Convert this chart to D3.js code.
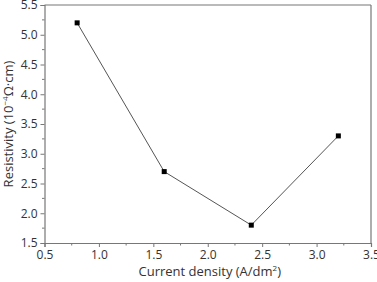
<!DOCTYPE html>
<html>
<head>
<meta charset="utf-8">
<script src="https://cdn.jsdelivr.net/npm/d3@7"></script>
<style>
  body { margin: 0; background: #fff; }
  text { font-family: "Open Sans", sans-serif; fill: #333; }
</style>
</head>
<body>
<div id="chart"></div>
<script>
const density = [0.8, 1.6, 2.4, 3.2];
const resistivity = [5.2, 2.7, 1.8, 3.3];
const xTicks = [0.5, 1.0, 1.5, 2.0, 2.5, 3.0, 3.5];
const yTicks = [1.5, 2.0, 2.5, 3.0, 3.5, 4.0, 4.5, 5.0, 5.5];

const W = 377, H = 282;
const margin = { top: 5, right: 6, bottom: 39, left: 44.5 },
  width = W - margin.left - margin.right,
  height = H - margin.top - margin.bottom;

const svg = d3.select("#chart").append("svg")
  .attr("width", W).attr("height", H)
  .append("g")
  .attr("transform", `translate(${margin.left}, ${margin.top})`);

const xScale = d3.scaleLinear().domain([0.5, 3.5]).range([0, width]);
const yScale = d3.scaleLinear().domain([1.5, 5.5]).range([height, 0]);

const frame = "#777";

// minor ticks
const xMinor = d3.range(0.75, 3.5, 0.5);
const yMinor = d3.range(1.75, 5.5, 0.5);

const xAxis = svg.append("g")
  .attr("transform", `translate(0, ${height})`)
  .call(d3.axisBottom(xScale).tickValues(xTicks).tickFormat(d3.format(".1f")).tickSize(4).tickPadding(3));
xAxis.selectAll("g.minor").data(xMinor).enter().append("line")
  .attr("x1", d => xScale(d)).attr("x2", d => xScale(d))
  .attr("y1", 0).attr("y2", 2.5).attr("stroke", frame);

const yAxis = svg.append("g")
  .call(d3.axisLeft(yScale).tickValues(yTicks).tickFormat(d3.format(".1f")).tickSize(4).tickPadding(3));
yAxis.selectAll("g.minor").data(yMinor).enter().append("line")
  .attr("y1", d => yScale(d)).attr("y2", d => yScale(d))
  .attr("x1", 0).attr("x2", -2.5).attr("stroke", frame);

svg.selectAll(".domain").attr("stroke", frame).attr("stroke-width", 1.2);
svg.selectAll(".tick line").attr("stroke", frame);
svg.selectAll(".tick text").style("font-size", "12px").attr("fill", "#333");

// top and right borders
svg.append("line").attr("x1", 0).attr("x2", width).attr("y1", 0).attr("y2", 0)
  .attr("stroke", frame).attr("stroke-width", 1.2);
svg.append("line").attr("x1", width).attr("x2", width).attr("y1", 0).attr("y2", height)
  .attr("stroke", frame).attr("stroke-width", 1.2);

const pts = density.map((d, i) => [d, resistivity[i]]);

svg.append("path")
  .datum(pts)
  .attr("fill", "none")
  .attr("stroke", "#555")
  .attr("stroke-width", 1)
  .attr("d", d3.line().x(d => xScale(d[0])).y(d => yScale(d[1])));

svg.selectAll("rect.pt").data(pts).enter().append("rect")
  .attr("class", "pt")
  .attr("x", d => xScale(d[0]) - 2.5)
  .attr("y", d => yScale(d[1]) - 2.5)
  .attr("width", 5).attr("height", 5)
  .attr("fill", "#000");

// axis titles
const xl = svg.append("text")
  .attr("x", width / 2 + 2).attr("y", height + 33)
  .attr("text-anchor", "middle")
  .style("font-size", "13px");
xl.append("tspan").text("Current density (A/dm");
xl.append("tspan").text("2").style("font-size", "8px").attr("dy", -5);
xl.append("tspan").text(")").attr("dy", 5);

const yl = svg.append("text")
  .attr("transform", `translate(-32, ${height / 2}) rotate(-90)`)
  .attr("text-anchor", "middle")
  .style("font-size", "13px");
yl.append("tspan").text("Resistivity (10");
yl.append("tspan").text("−4").style("font-size", "8px").attr("dy", -5);
yl.append("tspan").text("Ω·cm)").attr("dy", 5);
</script>
</body>
</html>
